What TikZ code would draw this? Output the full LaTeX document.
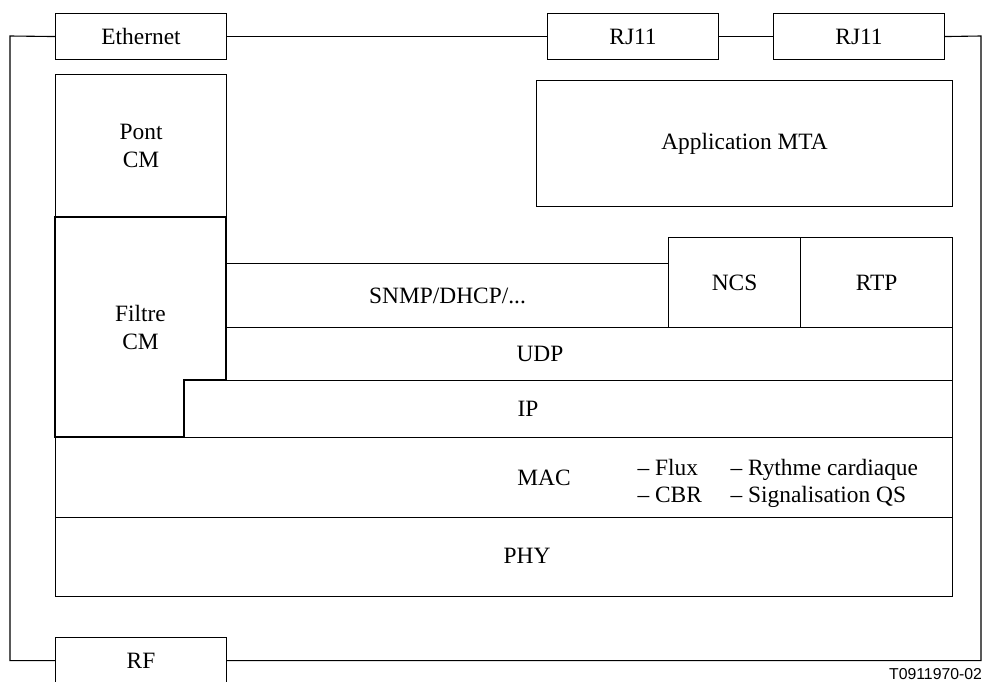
\documentclass[tikz,border=0pt]{standalone}
\usepackage{fontspec}
\setmainfont{Liberation Serif}
\newfontfamily\labelsans{Liberation Sans}
\begin{document}
\begin{tikzpicture}[x=1pt,y=-1pt,line width=1.1pt,
  txt/.style={inner sep=0pt,font=\fontsize{23.4}{28}\selectfont,align=center},
  box/.style={draw,inner sep=0pt,anchor=north west,font=\fontsize{23.4}{28}\selectfont,align=center},
  itemtxt/.style={inner sep=0pt,anchor=base west,font=\fontsize{23.4}{28}\selectfont}]
\useasboundingbox (0,0) rectangle (983,682);
\clip (0,0) rectangle (983,682);
% top connectors
\node[box,minimum width=171pt,minimum height=46pt] (eth) at (55,13) {Ethernet};
\node[box,minimum width=171pt,minimum height=46pt] (rja) at (547,13) {RJ11};
\node[box,minimum width=171pt,minimum height=46pt] (rjb) at (773,13) {RJ11};
\node[box,minimum width=171pt,minimum height=46pt] (rf) at (55,637) {RF};
\coordinate (tl) at (10,36);
\coordinate (tr) at (981,36);
\draw (eth.west) -- (tl) |- (rf.west);
\draw (eth.east) -- (rja.west);
\draw (rja.east) -- (rjb.west);
\draw (rjb.east) -- (tr) |- (rf.east);
% left column
\node[box,minimum width=171pt,minimum height=143pt] (pont) at (55,74) {Pont\\CM};
\draw (55,217) -- (226,217) -- (226,380) -- (184,380) -- (184,437) -- (55,437) -- cycle;
\node[txt] (filtre) at (140.5,327) {Filtre\\CM};
% application
\node[box,minimum width=416pt,minimum height=126pt] (mta) at (536,80) {Application MTA};
\node[box,minimum width=442pt,minimum height=64pt] (snmp) at (226,263) {SNMP/DHCP/...};
\node[box,minimum width=132pt,minimum height=90pt] (ncs) at (668,237) {NCS};
\node[box,minimum width=152pt,minimum height=90pt] (rtp) at (800,237) {RTP};
% layers
\node[box,minimum width=726pt,minimum height=53pt] (udp) at (226,327) {};
\node[txt] (udpt) at (540,353.5) {UDP};
\node[box,minimum width=768pt,minimum height=57pt] (ip) at (184,380) {};
\node[txt] (ipt) at (528,408.5) {IP};
\node[box,minimum width=897pt,minimum height=80pt] (mac) at (55,437) {};
\node[txt] (mact) at (544,478) {MAC};
\node[itemtxt] (flux) at (637,475) {– Flux};
\node[itemtxt] (cbr) at (637,502) {– CBR};
\node[itemtxt] (ryth) at (730,475) {– Rythme cardiaque};
\node[itemtxt] (sig) at (730,502) {– Signalisation QS};
\node[box,minimum width=897pt,minimum height=79pt] (phy) at (55,517) {};
\node[txt] (phyt) at (527,556) {PHY};
\node[inner sep=0pt,anchor=base east,font=\labelsans\fontsize{15.8}{18}\selectfont] (ref) at (982.5,679.5) {T0911970-02};
\end{tikzpicture}
\end{document}
